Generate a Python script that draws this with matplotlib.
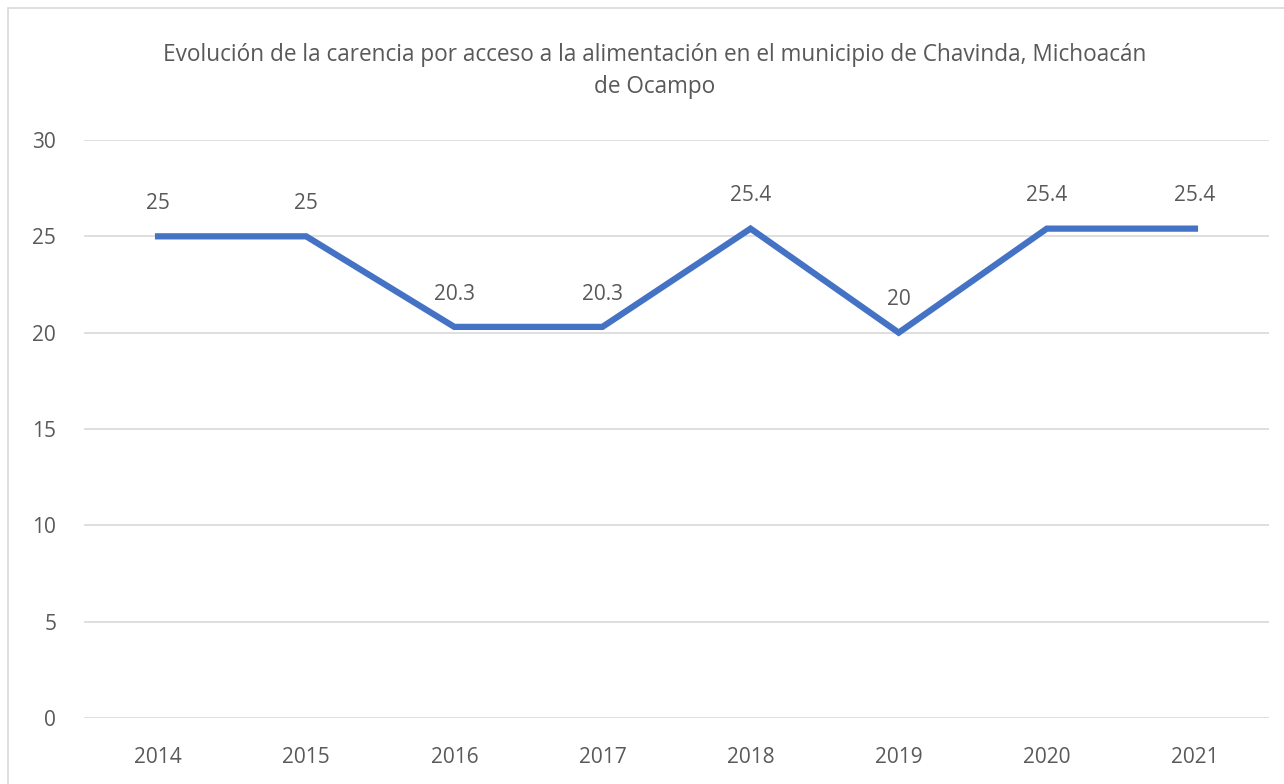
import matplotlib.pyplot as plt
from matplotlib.patches import Rectangle

years = ["2014", "2015", "2016", "2017", "2018", "2019", "2020", "2021"]
values = [25, 25, 20.3, 20.3, 25.4, 20, 25.4, 25.4]
value_labels = ["25", "25", "20.3", "20.3", "25.4", "20", "25.4", "25.4"]

title = ("Evolución de la carencia por acceso a la alimentación en el municipio de Chavinda, Michoacán\n"
         "de Ocampo")

plt.rcParams["font.family"] = ["Open Sans", "DejaVu Sans"]

text_color = "#595959"
line_color = "#4472C4"
grid_color = "#D9D9D9"

fig = plt.figure(figsize=(12.84, 7.84), dpi=100)
ax = fig.add_axes([84 / 1284, 1 - 718 / 784, (1269 - 84) / 1284, (718 - 140) / 784])

x = range(len(years))
ax.plot(x, values, color=line_color, linewidth=4.5, solid_joinstyle="miter", zorder=3)

for i, (v, lab) in enumerate(zip(values, value_labels)):
    ax.annotate(lab, (i, v), xytext=(0, 16), textcoords="offset points",
                ha="center", va="bottom", fontsize=15, color=text_color)

ax.set_xlim(-0.5, len(years) - 0.5)
ax.set_ylim(0, 30)
ax.set_yticks(range(0, 31, 5))
ax.set_xticks(list(x))
ax.set_xticklabels(years)
ax.grid(axis="y", color=grid_color, linewidth=1.2)
ax.set_axisbelow(True)
for s in ax.spines.values():
    s.set_visible(False)
ax.tick_params(axis="both", length=0, labelsize=15, labelcolor=text_color)
ax.tick_params(axis="x", pad=21)
ax.tick_params(axis="y", pad=20)

fig.text(655 / 1284, 1 - 71 / 784, title, ha="center", va="center",
         fontsize=16.3, color=text_color, linespacing=1.45)

fig.patches.append(Rectangle((8 / 1284, -0.1), 1.2, 1 - 8 / 784 + 0.1,
                             transform=fig.transFigure, fill=False,
                             edgecolor="#D9D9D9", linewidth=1.2))

fig.savefig("out.png", dpi=100)
